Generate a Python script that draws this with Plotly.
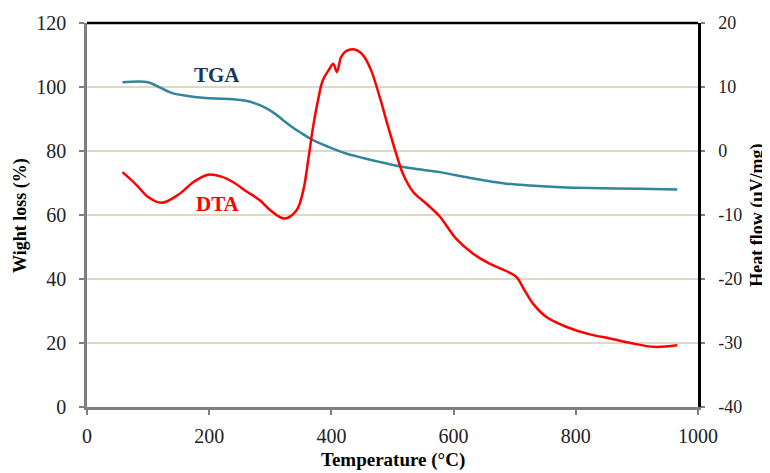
import plotly.graph_objects as go

# TGA (left axis, %)
tga_temp = [58, 100, 120, 141, 165, 185, 210, 239, 260, 275, 290, 305, 320, 335, 350, 370, 395, 424, 450, 479, 505, 534, 577, 632, 686, 725, 768, 823, 905, 966]
tga_loss = [101.5, 101.5, 99.8, 98.0, 97.2, 96.7, 96.4, 96.2, 95.7, 94.9, 93.7, 92.0, 89.8, 87.6, 85.7, 83.4, 81.3, 79.2, 77.9, 76.6, 75.5, 74.5, 73.4, 71.4, 69.8, 69.2, 68.75, 68.4, 68.2, 68.0]

# DTA (right axis, µV/mg)
dta_temp = [58, 80, 100, 122, 150, 175, 198, 220, 239, 260, 283, 300, 323, 343, 354, 362, 370, 378, 386, 397, 403, 409, 416, 424, 438, 452, 465, 479, 493, 506, 517, 534, 555, 577, 604, 632, 659, 686, 703, 716, 730, 752, 785, 823, 856, 890, 928, 966]
dta_flow = [-3.3, -5.2, -7.2, -8.1, -6.8, -4.8, -3.7, -4.0, -4.85, -6.25, -7.7, -9.25, -10.55, -9.25, -6.15, -1.45, 3.75, 7.9, 11.05, 12.85, 13.65, 12.35, 14.7, 15.6, 15.85, 14.95, 12.6, 8.45, 3.75, -0.4, -3.55, -6.4, -8.2, -10.2, -13.7, -16.05, -17.6, -18.75, -19.7, -21.75, -23.85, -25.95, -27.5, -28.65, -29.3, -30.0, -30.6, -30.35]

x_ticks = [0, 200, 400, 600, 800, 1000]
y_ticks = [0, 20, 40, 60, 80, 100, 120]
y2_ticks = [-40, -30, -20, -10, 0, 10, 20]
y2_labels = ["-40", "-30", "-20", "-10", "0", "10", "20"]

FONT = "Liberation Serif, Times New Roman, serif"

fig = go.Figure()
fig.add_trace(go.Scatter(x=tga_temp, y=tga_loss, mode="lines", name="TGA",
                         line=dict(color="#31859c", width=2.5, shape="spline", smoothing=0.9)))
fig.add_trace(go.Scatter(x=dta_temp, y=dta_flow, mode="lines", name="DTA", yaxis="y2",
                         line=dict(color="#ff0000", width=2.5, shape="spline", smoothing=1.0)))

fig.add_annotation(x=212, y=103.6, text="<b>TGA</b>", showarrow=False,
                   font=dict(family=FONT, size=21, color="#17375e"))
fig.add_annotation(x=215, y=63.3, text="<b>DTA</b>", showarrow=False,
                   font=dict(family=FONT, size=21, color="#ff0000"))

# axis titles
fig.add_annotation(xref="paper", yref="paper", x=0.5016, y=-0.139, yanchor="middle",
                   text="<b>Temperature (°C)</b>", showarrow=False,
                   font=dict(family=FONT, size=19, color="black"))
fig.add_annotation(xref="paper", yref="paper", x=-0.1097, xanchor="center", y=0.5,
                   text="<b>Wight loss (%)</b>", showarrow=False, textangle=-90,
                   font=dict(family=FONT, size=18, color="black"))
fig.add_annotation(xref="paper", yref="paper", x=1.096, xanchor="center", y=0.5,
                   text="<b>Heat flow (μV/mg)</b>", showarrow=False, textangle=-90,
                   font=dict(family=FONT, size=18, color="black"))

# top border
fig.add_shape(type="line", xref="paper", yref="paper", x0=0, x1=1, y0=1, y1=1,
              line=dict(color="black", width=2.5))

fig.update_layout(
    width=762, height=465,
    margin=dict(l=79, r=72, t=15, b=66),
    paper_bgcolor="white", plot_bgcolor="white",
    showlegend=False,
    font=dict(family=FONT, size=18, color="#222222"),
    xaxis=dict(range=[0, 1000], tickvals=x_ticks, showgrid=False, zeroline=False, automargin=False,
               showline=True, linecolor="#7f7f7f", linewidth=2.5,
               ticks="outside", ticklen=5, tickcolor="#7f7f7f", tickwidth=1.5,
               ticklabelstandoff=4,
               tickfont=dict(family=FONT, size=20, color="#222222")),
    yaxis=dict(range=[0, 120], tickvals=y_ticks, showgrid=True, gridcolor="#ddd9c3", gridwidth=1.5,
               zeroline=False, showline=True, linecolor="#7f7f7f", linewidth=2.5, automargin=False,
               ticks="outside", ticklen=5, tickcolor="#7f7f7f", tickwidth=1.5,
               ticklabelstandoff=9,
               tickfont=dict(family=FONT, size=20, color="#222222")),
    yaxis2=dict(range=[-40, 20], tickvals=y2_ticks, ticktext=y2_labels, overlaying="y", side="right",
                showgrid=False, automargin=False,
                zeroline=False, showline=True, linecolor="black", linewidth=2.5,
                ticks="outside", ticklen=4, tickcolor="#7f7f7f", tickwidth=1.5,
                ticklabelstandoff=10,
                tickfont=dict(family=FONT, size=18, color="#222222")),
)

fig.write_html("out.html")
